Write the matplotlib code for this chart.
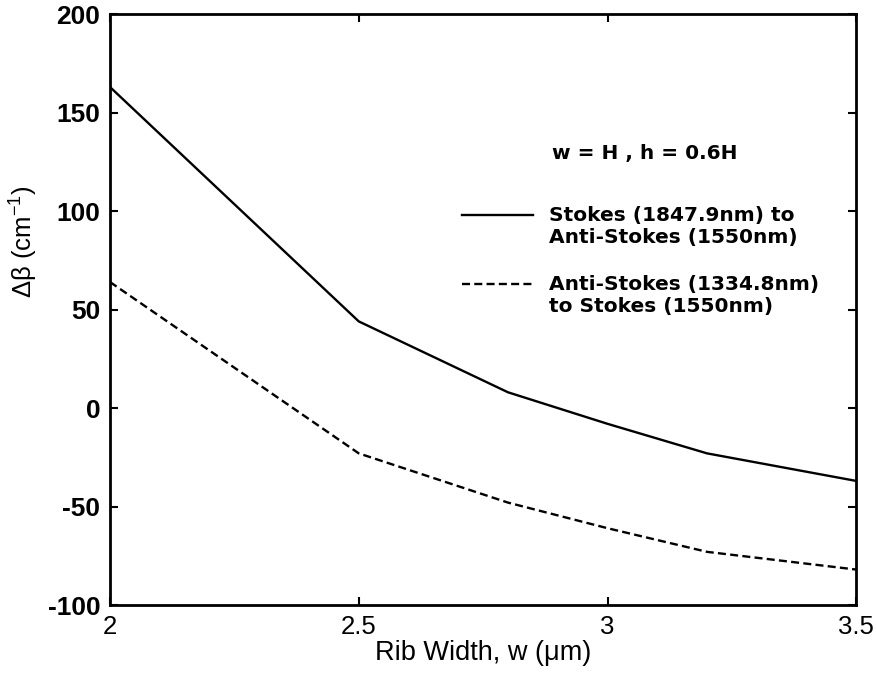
import matplotlib
matplotlib.use("Agg")
import matplotlib.pyplot as plt
from matplotlib.legend_handler import HandlerLine2D
from matplotlib.lines import Line2D

# rib width (um) and phase mismatch (1/cm)
rib_width = [2.0, 2.5, 2.8, 3.0, 3.2, 3.5]
stokes_to_as = [163, 44, 8, -8, -23, -37]
as_to_stokes = [64, -23, -48, -61, -73, -82]

label_solid = "Stokes (1847.9nm) to\nAnti-Stokes (1550nm)"
label_dashed = "Anti-Stokes (1334.8nm)\nto Stokes (1550nm)"

yticks = list(range(-100, 201, 50))
xticks = [2, 2.5, 3, 3.5]
xtick_labels = ["2", "2.5", "3", "3.5"]

plt.rcParams["mathtext.default"] = "regular"


class FirstLineHandler(HandlerLine2D):
    # put the key line next to the first line of a two-line label
    def create_artists(self, legend, orig_handle, xdescent, ydescent,
                       width, height, fontsize, trans):
        arts = super().create_artists(legend, orig_handle, xdescent, ydescent,
                                      width, height, fontsize, trans)
        for a in arts:
            if isinstance(a, Line2D):
                a.set_ydata([y + 0.6 * fontsize for y in a.get_ydata()])
        return arts


fig = plt.figure(figsize=(8.77, 6.73), dpi=100)
ax = fig.add_axes([0.1254, 0.101, 0.851, 0.878])

ax.plot(rib_width, stokes_to_as, color="black", lw=1.7, label=label_solid)
ax.plot(rib_width, as_to_stokes, color="black", lw=1.7,
        linestyle=(0, (3.4, 1.8)), label=label_dashed)

ax.set_xlim(2, 3.5)
ax.set_ylim(-100, 200)
ax.set_xticks(xticks)
ax.set_xticklabels(xtick_labels, family="Liberation Sans", fontsize=18.5)
ax.set_yticks(yticks)
ax.set_yticklabels([str(v) for v in yticks],
                   family="Liberation Sans", fontweight="bold", fontsize=19)
ax.tick_params(direction="in", length=6, width=1.5, top=True, right=True)
ax.tick_params(axis="y", pad=7)
ax.tick_params(axis="x", pad=7)
for s in ax.spines.values():
    s.set_linewidth(2)

ax.set_xlabel("Rib Width, w (\u03bcm)", family="Liberation Sans", fontsize=19.5, labelpad=1)
ax.set_ylabel("\u0394\u03b2 (cm$^{-1}$)", family="Liberation Sans", fontsize=18.5)
ax.yaxis.set_label_coords(-0.094, 0.615)

ax.text(0.592, 0.764, "w = H , h = 0.6H", transform=ax.transAxes,
        family="DejaVu Sans", fontweight="bold", fontsize=14.5, va="center")

leg = ax.legend(loc="upper left", bbox_to_anchor=(0.472, 0.675), frameon=False,
                prop={"family": "DejaVu Sans", "weight": "bold", "size": 14.5},
                handlelength=3.5, handletextpad=0.8, labelspacing=1.42,
                borderpad=0, borderaxespad=0,
                handler_map={Line2D: FirstLineHandler()})
for t in leg.get_texts():
    t.set_linespacing(1.17)

fig.savefig("out.png", dpi=100)
